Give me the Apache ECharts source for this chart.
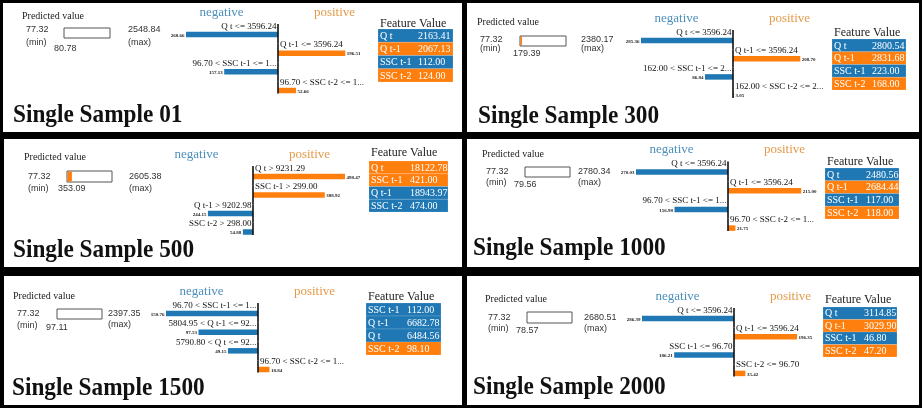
<!DOCTYPE html>
<html>
<head>
<meta charset="utf-8">
<script src="https://cdn.jsdelivr.net/npm/echarts@6/dist/echarts.min.js"></script>
<style>
  html, body { margin: 0; padding: 0; background: #000; }
  #chart { width: 922px; height: 408px; }
</style>
</head>
<body>
<div id="chart"></div>
<script>
// ---------------- data ----------------
const sampleTitles = ['Single Sample 01', 'Single Sample 300', 'Single Sample 500',
                      'Single Sample 1000', 'Single Sample 1500', 'Single Sample 2000'];
const predMin   = [77.32, 77.32, 77.32, 77.32, 77.32, 77.32];
const predMax   = [2548.84, 2380.17, 2605.38, 2780.34, 2397.35, 2680.51];
const predValue = [80.78, 179.39, 353.09, 79.56, 97.11, 78.57];

const ruleLabels = [
  ['Q t <= 3596.24', 'Q t-1 <= 3596.24', '96.70 < SSC t-1 <= 1...', '96.70 < SSC t-2 <= 1...'],
  ['Q t <= 3596.24', 'Q t-1 <= 3596.24', '162.00 < SSC t-1 <= 2...', '162.00 < SSC t-2 <= 2...'],
  ['Q t > 9231.29', 'SSC t-1 > 299.00', 'Q t-1 > 9202.98', 'SSC t-2 > 298.00'],
  ['Q t <= 3596.24', 'Q t-1 <= 3596.24', '96.70 < SSC t-1 <= 1...', '96.70 < SSC t-2 <= 1...'],
  ['96.70 < SSC t-1 <= 1...', '5804.95 < Q t-1 <= 92...', '5790.80 < Q t <= 92...', '96.70 < SSC t-2 <= 1...'],
  ['Q t <= 3596.24', 'Q t-1 <= 3596.24', 'SSC t-1 <= 96.70', 'SSC t-2 <= 96.70']
];
const ruleWeights = [
  [-268.66, 196.51, -157.13, 52.66],
  [-285.36, 208.70, -86.84, 3.05],
  [498.47, 388.92, -244.15, -54.88],
  [-270.03, 215.00, -156.98, 21.75],
  [-150.76, -97.53, -49.15, 18.84],
  [-286.39, 196.35, -186.21, 35.42]
];

const featureNames = [
  ['Q t', 'Q t-1', 'SSC t-1', 'SSC t-2'],
  ['Q t', 'Q t-1', 'SSC t-1', 'SSC t-2'],
  ['Q t', 'SSC t-1', 'Q t-1', 'SSC t-2'],
  ['Q t', 'Q t-1', 'SSC t-1', 'SSC t-2'],
  ['SSC t-1', 'Q t-1', 'Q t', 'SSC t-2'],
  ['Q t', 'Q t-1', 'SSC t-1', 'SSC t-2']
];
const featureValues = [
  [2163.41, 2067.13, 112.00, 124.00],
  [2800.54, 2831.68, 223.00, 168.00],
  [18122.78, 421.00, 18943.97, 474.00],
  [2480.56, 2684.44, 117.00, 118.00],
  [112.00, 6682.78, 6484.56, 98.10],
  [3114.85, 3029.90, 46.80, 47.20]
];

// ---------------- layout & style ----------------
const BLUE = '#1f77b4';
const ORANGE = '#ff7f0e';
const SERIF = "'Liberation Serif', 'Times New Roman', serif";
const SANS = "'Liberation Sans', Arial, sans-serif";

const panels = [
  { box: [3, 3, 459, 129], cx: 278, y1: 34.5, pitch: 18.67, title: [13, 115.5],
    pv: { label: [22, 16.7], min: [26, 29.7, 43], box: [64, 28, 46, 10], pred: [54, 49], max: [128, 30, 43] },
    table: { x: 378, w: 75, head: 23.5, top: 29, rowH: 13.25, valDx: 40 } },
  { box: [467, 3, 452, 129], cx: 733, y1: 40.5, pitch: 18.2, title: [478, 116],
    pv: { label: [477, 22], min: [480, 40, 48.3], box: [520, 36, 46, 10], pred: [513, 54], max: [581, 40, 49] },
    table: { x: 832, w: 74, head: 32.5, top: 39, rowH: 12.75, valDx: 40 } },
  { box: [4, 139, 458, 128], cx: 253, y1: 176.5, pitch: 18.5, title: [13, 250],
    pv: { label: [24, 157.5], min: [28, 176.5, 188.5], box: [67, 171, 45, 11], pred: [58, 189], max: [129, 176.5, 188.5] },
    table: { x: 369, w: 79, head: 153, top: 161, rowH: 12.75, valDx: 41 } },
  { box: [467, 139, 452, 128], cx: 728, y1: 172, pitch: 18.7, title: [473, 248],
    pv: { label: [482, 154], min: [486, 171.5, 182.5], box: [525, 167, 45, 10], pred: [514, 185], max: [578, 171.5, 182.5] },
    table: { x: 825, w: 74, head: 162, top: 168, rowH: 12.75, valDx: 41 } },
  { box: [4, 276, 458, 129], cx: 258, y1: 313.5, pitch: 18.67, title: [12, 388],
    pv: { label: [13, 296], min: [17, 313.5, 326], box: [57, 309, 45, 10], pred: [46, 327.5], max: [108, 313.5, 325] },
    table: { x: 366, w: 75, head: 297, top: 303, rowH: 13, valDx: 41 } },
  { box: [467, 276, 452, 129], cx: 734, y1: 318.5, pitch: 18.3, title: [473, 387.5],
    pv: { label: [485, 299], min: [488, 317.5, 329], box: [527, 312, 45, 11], pred: [516, 331], max: [584, 317.5, 329] },
    table: { x: 823, w: 74, head: 299.5, top: 307, rowH: 12.5, valDx: 41 } }
];

const BAR_HALF = 92;   // pixel length of the strongest weight in each panel

function txt(x, y, text, font, fill, align, sx, sy) {
  return { type: 'text', z: 20, x: x, y: y, scaleX: sx || 1, scaleY: sy || 1,
           style: { x: 0, y: 0, text: text, font: font, fill: fill,
                    align: align || 'left', verticalAlign: 'middle' } };
}

// Horizontal weight bars with rule labels and the central axis line
function ruleRenderer(p) {
  return function (params, api) {
    const i = params.dataIndex;
    const w = api.value(0);
    const base = api.coord([0, i]);
    const tip = api.coord([w, i]);
    const pitch = api.size([0, 1])[1];
    const neg = w < 0;
    const bh = 5.5;
    const len = Math.max(Math.abs(tip[0] - base[0]), 0.8);
    const x0 = neg ? base[0] - len : base[0];
    const y1 = i === 0 ? base[1] - 10.5 : base[1] - pitch / 2;
    const y2 = i === ruleWeights[p].length - 1 ? base[1] + 3 : base[1] + pitch / 2;
    return {
      type: 'group',
      children: [
        { type: 'rect', shape: { x: x0, y: base[1] - bh / 2, width: len, height: bh },
          style: { fill: neg ? BLUE : ORANGE } },
        { type: 'text', style: { text: ruleLabels[p][i], x: neg ? base[0] - 1.5 : base[0] + 2,
          y: base[1] - 8.3, align: neg ? 'right' : 'left', verticalAlign: 'middle',
          font: '9px ' + SERIF, fill: '#111' } },
        { type: 'text', style: { text: Math.abs(w).toFixed(2), x: neg ? x0 - 1.5 : x0 + len + 1.5,
          y: base[1] + 1, align: neg ? 'right' : 'left', verticalAlign: 'middle',
          font: 'bold 5px ' + SERIF, fill: '#222' } },
        { type: 'line', shape: { x1: base[0], y1: y1, x2: base[0], y2: y2 },
          style: { stroke: '#111', lineWidth: 1.6 } }
      ]
    };
  };
}

// Coloured feature/value table rows
function tableRenderer(p) {
  const T = panels[p].table;
  return function (params, api) {
    const i = params.dataIndex;
    const c = api.coord([0, i]);
    const size = api.size([1, 1]);
    const h = size[1];
    return {
      type: 'group',
      children: [
        { type: 'rect', shape: { x: c[0], y: c[1] - h / 2, width: size[0], height: h },
          style: { fill: ruleWeights[p][i] < 0 ? BLUE : ORANGE, stroke: 'rgba(255,255,255,0.25)', lineWidth: 0.6 } },
        { type: 'text', style: { text: featureNames[p][i], x: c[0] + 2, y: c[1] + 0.5,
          verticalAlign: 'middle', font: '10px ' + SERIF, fill: '#fff' } },
        { type: 'text', style: { text: featureValues[p][i].toFixed(2), x: c[0] + T.valDx, y: c[1] + 0.5,
          verticalAlign: 'middle', font: '10px ' + SERIF, fill: '#fff' } }
      ]
    };
  };
}

// Predicted-value gauge box between min and max
function predRenderer(p) {
  return function (params, api) {
    const a = api.coord([predMin[p], 0]);
    const b = api.coord([predMax[p], 0]);
    const v = api.coord([api.value(0), 0]);
    const h = api.size([0, 1])[1];
    return {
      type: 'group',
      children: [
        { type: 'rect', shape: { x: a[0], y: a[1] - h / 2, width: b[0] - a[0], height: h },
          style: { fill: '#fff', stroke: '#555', lineWidth: 1 } },
        { type: 'rect', shape: { x: a[0] + 0.5, y: a[1] - h / 2 + 0.5, width: Math.max(v[0] - a[0] - 0.5, 0), height: h - 1 },
          style: { fill: ORANGE } }
      ]
    };
  };
}

const grid = [], xAxis = [], yAxis = [], series = [], graphic = [];

panels.forEach(function (L, p) {
  // white panel
  graphic.push({ type: 'rect', z: 0, shape: { x: L.box[0], y: L.box[1], width: L.box[2], height: L.box[3] },
                 style: { fill: '#fff' } });

  // weight bars
  const M = Math.max.apply(null, ruleWeights[p].map(Math.abs));
  let gi = grid.length;
  grid.push({ left: L.cx - BAR_HALF, top: L.y1 - L.pitch / 2, width: 2 * BAR_HALF, height: 4 * L.pitch });
  xAxis.push({ gridIndex: gi, type: 'value', min: -M, max: M, show: false });
  yAxis.push({ gridIndex: gi, type: 'category', data: ruleLabels[p], inverse: true, show: false });
  series.push({ type: 'custom', xAxisIndex: gi, yAxisIndex: gi, silent: true, clip: false, z: 5,
                renderItem: ruleRenderer(p), data: ruleWeights[p].map(function (w, i) { return [w, i]; }) });

  // feature table
  const T = L.table;
  gi = grid.length;
  grid.push({ left: T.x, top: T.top, width: T.w, height: 4 * T.rowH });
  xAxis.push({ gridIndex: gi, type: 'value', min: 0, max: 1, show: false });
  yAxis.push({ gridIndex: gi, type: 'category', data: featureNames[p], inverse: true, show: false });
  series.push({ type: 'custom', xAxisIndex: gi, yAxisIndex: gi, silent: true, clip: false, z: 5,
                renderItem: tableRenderer(p), data: featureValues[p].map(function (v, i) { return [0, i]; }) });

  // predicted value box
  const B = L.pv.box;
  gi = grid.length;
  grid.push({ left: B[0], top: B[1], width: B[2], height: B[3] });
  xAxis.push({ gridIndex: gi, type: 'value', min: predMin[p], max: predMax[p], show: false });
  yAxis.push({ gridIndex: gi, type: 'category', data: ['pred'], show: false });
  series.push({ type: 'custom', xAxisIndex: gi, yAxisIndex: gi, silent: true, clip: false, z: 5,
                renderItem: predRenderer(p), data: [[predValue[p], 0]] });

  // texts
  const pv = L.pv;
  graphic.push(txt(pv.label[0], pv.label[1], 'Predicted value', '10px ' + SERIF, '#222'));
  graphic.push(txt(pv.min[0], pv.min[1], predMin[p].toFixed(2), '9px ' + SANS, '#333'));
  graphic.push(txt(pv.min[0], pv.min[2], '(min)', '9px ' + SANS, '#333'));
  graphic.push(txt(pv.pred[0], pv.pred[1], predValue[p].toFixed(2), '9px ' + SANS, '#333'));
  graphic.push(txt(pv.max[0], pv.max[1], predMax[p].toFixed(2), '9px ' + SANS, '#333'));
  graphic.push(txt(pv.max[0], pv.max[2], '(max)', '9px ' + SANS, '#333'));

  graphic.push(txt(L.cx - 56.5, L.y1 - 22, 'negative', '13px ' + SERIF, '#4d8fbd', 'center'));
  graphic.push(txt(L.cx + 56.5, L.y1 - 22, 'positive', '13px ' + SERIF, '#e39a4a', 'center'));
  graphic.push(txt(T.x + 2, T.head, 'Feature Value', '12px ' + SERIF, '#222'));

  graphic.push(txt(L.title[0], L.title[1], sampleTitles[p], 'bold 24px ' + SERIF, '#111', 'left', 0.97, 1.06));
});

const chart = echarts.init(document.getElementById('chart'), null, { renderer: 'canvas' });
chart.setOption({
  backgroundColor: '#000',
  animation: false,
  grid: grid,
  xAxis: xAxis,
  yAxis: yAxis,
  graphic: graphic,
  series: series
});
</script>
</body>
</html>
